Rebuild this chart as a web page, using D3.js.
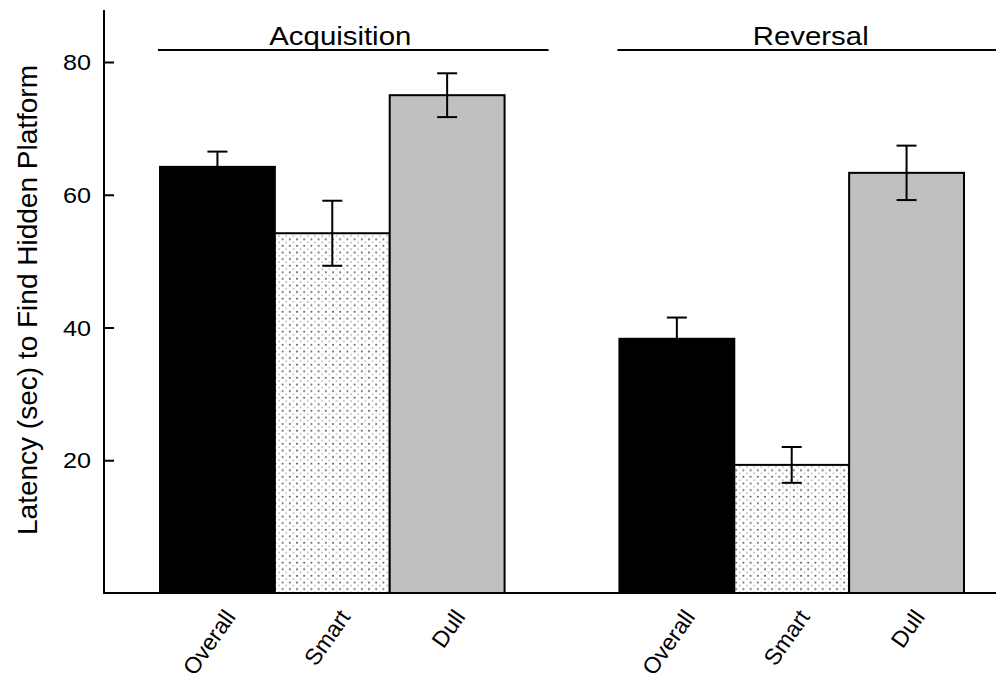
<!DOCTYPE html>
<html>
<head>
<meta charset="utf-8">
<script src="https://cdn.jsdelivr.net/npm/d3@7"></script>
<style>
  html, body { margin: 0; padding: 0; background: #fff; }
  svg { display: block; font-family: "Liberation Sans", Arial, sans-serif; }
</style>
</head>
<body>
<svg id="chart" width="996" height="682"></svg>
<script>
// ---- data ----
const groups = ["Acquisition", "Reversal"];
const categories = ["Overall", "Smart", "Dull"];
const acquisitionMeans = [64.2, 54.2, 75.0];
const acquisitionErrors = [2.3, 4.9, 3.3];
const reversalMeans = [38.3, 19.3, 63.3];
const reversalErrors = [3.2, 2.7, 4.1];
const yTicks = [20, 40, 60, 80];
const yLabel = "Latency (sec) to Find Hidden Platform";

const data = [];
groups.forEach((g, gi) => {
  const means = gi === 0 ? acquisitionMeans : reversalMeans;
  const errs = gi === 0 ? acquisitionErrors : reversalErrors;
  categories.forEach((c, ci) => data.push({ group: g, cat: c, mean: means[ci], err: errs[ci] }));
});

// ---- layout ----
const svg = d3.select("#chart");
const axisX = 104, axisTop = 10, baseY = 593, rightEdge = 996;
const titleOffsets = { Acquisition: 8, Reversal: 19 };

const y = d3.scaleLinear().domain([0, 80]).range([baseY, 62]);
const xGroup = d3.scaleBand().domain(groups).range([160, 964]).paddingInner(0.25).paddingOuter(0);
const xCat = d3.scaleBand().domain(categories).range([0, xGroup.bandwidth()]).padding(0);

const fills = { Overall: "#000000", Smart: "url(#dots)", Dull: "#c0c0c0" };

// dotted pattern
const defs = svg.append("defs");
const pat = defs.append("pattern").attr("id", "dots").attr("patternUnits", "userSpaceOnUse")
  .attr("width", 7.2).attr("height", 6.6);
pat.append("rect").attr("width", 7.2).attr("height", 6.6).attr("fill", "#fff");
pat.append("circle").attr("cx", 1.8).attr("cy", 1.6).attr("r", 1.0).attr("fill", "#555");
pat.append("circle").attr("cx", 5.4).attr("cy", 4.9).attr("r", 0.8).attr("fill", "#aaa");

// bars
const bx = d => xGroup(d.group) + xCat(d.cat);
svg.append("g").selectAll("rect").data(data).join("rect")
  .attr("x", bx)
  .attr("y", d => y(d.mean))
  .attr("width", xCat.bandwidth())
  .attr("height", d => y(0) - y(d.mean))
  .attr("fill", d => fills[d.cat])
  .attr("stroke", "#000")
  .attr("stroke-width", 2);

// error bars
const eb = svg.append("g").attr("stroke", "#000").attr("stroke-width", 2);
data.forEach(d => {
  const cx = bx(d) + xCat.bandwidth() / 2;
  eb.append("line").attr("x1", cx).attr("x2", cx).attr("y1", y(d.mean + d.err)).attr("y2", y(d.mean - d.err));
  eb.append("line").attr("x1", cx - 10).attr("x2", cx + 10).attr("y1", y(d.mean + d.err)).attr("y2", y(d.mean + d.err));
  eb.append("line").attr("x1", cx - 10).attr("x2", cx + 10).attr("y1", y(d.mean - d.err)).attr("y2", y(d.mean - d.err));
});

// axes
const yAxis = d3.axisRight(y).tickValues(yTicks).tickSize(10).tickFormat("");
const gy = svg.append("g").attr("transform", `translate(${axisX},0)`).call(yAxis);
gy.select(".domain").remove();
gy.selectAll(".tick line").attr("stroke", "#000").attr("stroke-width", 2);
svg.append("line").attr("x1", axisX).attr("x2", axisX).attr("y1", axisTop).attr("y2", baseY + 1)
  .attr("stroke", "#000").attr("stroke-width", 2);
svg.append("line").attr("x1", axisX).attr("x2", rightEdge).attr("y1", baseY).attr("y2", baseY)
  .attr("stroke", "#000").attr("stroke-width", 2);

// tick labels
svg.append("g").selectAll("text").data(yTicks).join("text")
  .attr("transform", d => `translate(91,${y(d)}) scale(1.12,1)`)
  .attr("text-anchor", "end").attr("dy", "0.36em")
  .attr("font-size", 22.5).attr("fill", "#000")
  .text(d => d);

// y label
svg.append("text")
  .attr("transform", `translate(37,300) rotate(-90)`)
  .attr("text-anchor", "middle")
  .attr("font-size", 28).attr("fill", "#000")
  .text(yLabel);

// group brackets and titles
groups.forEach(g => {
  const x0 = xGroup(g) - 2, x1 = xGroup(g) + xGroup.bandwidth() + 44;
  svg.append("line").attr("x1", x0).attr("x2", x1).attr("y1", 50).attr("y2", 50)
    .attr("stroke", "#000").attr("stroke-width", 2);
  svg.append("text")
    .attr("transform", `translate(${xGroup(g) + xGroup.bandwidth() / 2 + titleOffsets[g]},45) scale(1.13,1)`)
    .attr("text-anchor", "middle").attr("font-size", 26).attr("fill", "#000")
    .text(g);
});

// category labels
svg.append("g").selectAll("text").data(data).join("text")
  .attr("transform", d => `translate(${bx(d) + xCat.bandwidth() / 2 + 19},617) rotate(-55)`)
  .attr("text-anchor", "end").attr("font-size", 23).attr("fill", "#000")
  .text(d => d.cat);
</script>
</body>
</html>
